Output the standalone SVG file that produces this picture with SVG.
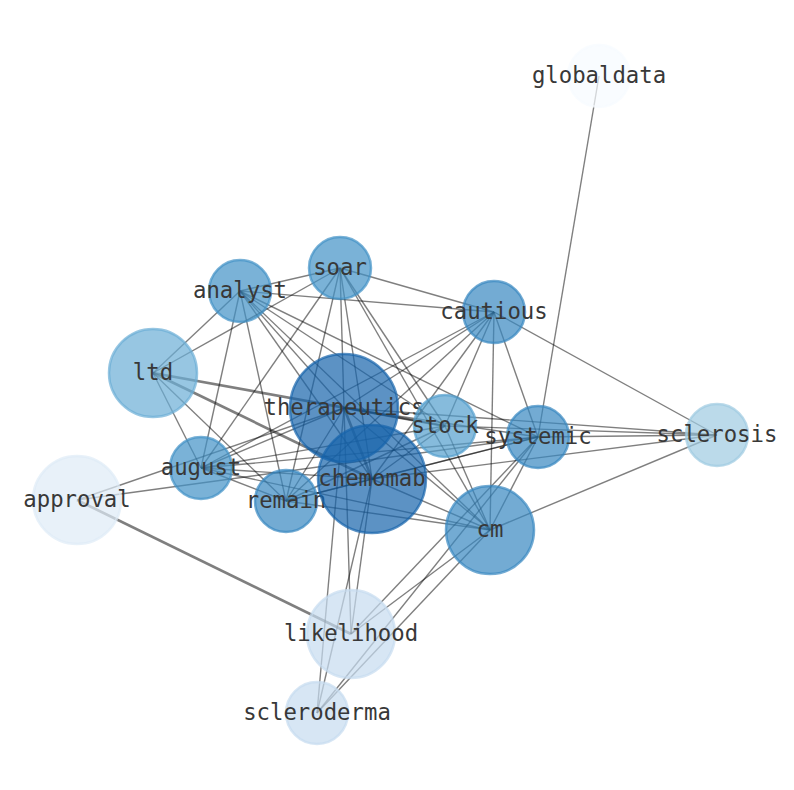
<svg xmlns="http://www.w3.org/2000/svg" width="794" height="790" viewBox="0 0 794 790">
<style>
.e{stroke:#000;stroke-opacity:0.5;stroke-width:1.4}
.t{stroke-width:2.7}
.n{fill-opacity:0.7;stroke-opacity:0.7;stroke-width:2.5}
.l{font-family:"DejaVu Sans Mono","Liberation Mono",monospace;font-size:22.3px;fill:#383838;text-anchor:middle}
</style>
<rect width="794" height="790" fill="#fff"/>
<g id="edges">
<line class="e" x1="599" y1="76" x2="538" y2="437"/>
<line class="e" x1="717" y1="435" x2="494" y2="312"/>
<line class="e" x1="717" y1="435" x2="538" y2="437"/>
<line class="e" x1="717" y1="435" x2="490" y2="530"/>
<line class="e" x1="717" y1="435" x2="344" y2="408"/>
<line class="e" x1="717" y1="435" x2="372" y2="479"/>
<line class="e" x1="717" y1="435" x2="445" y2="426"/>
<line class="e" x1="340" y1="268" x2="240" y2="291"/>
<line class="e" x1="340" y1="268" x2="494" y2="312"/>
<line class="e" x1="340" y1="268" x2="153" y2="373"/>
<line class="e" x1="340" y1="268" x2="344" y2="408"/>
<line class="e" x1="340" y1="268" x2="372" y2="479"/>
<line class="e" x1="340" y1="268" x2="286" y2="501"/>
<line class="e" x1="340" y1="268" x2="201" y2="468"/>
<line class="e" x1="340" y1="268" x2="445" y2="426"/>
<line class="e" x1="340" y1="268" x2="490" y2="530"/>
<line class="e" x1="240" y1="291" x2="494" y2="312"/>
<line class="e" x1="240" y1="291" x2="153" y2="373"/>
<line class="e" x1="240" y1="291" x2="201" y2="468"/>
<line class="e" x1="240" y1="291" x2="286" y2="501"/>
<line class="e" x1="240" y1="291" x2="344" y2="408"/>
<line class="e" x1="240" y1="291" x2="372" y2="479"/>
<line class="e" x1="240" y1="291" x2="445" y2="426"/>
<line class="e" x1="240" y1="291" x2="490" y2="530"/>
<line class="e" x1="240" y1="291" x2="538" y2="437"/>
<line class="e t" x1="153" y1="373" x2="445" y2="426"/>
<line class="e t" x1="153" y1="373" x2="372" y2="479"/>
<line class="e" x1="153" y1="373" x2="201" y2="468"/>
<line class="e" x1="153" y1="373" x2="286" y2="501"/>
<line class="e" x1="344" y1="408" x2="494" y2="312"/>
<line class="e" x1="344" y1="408" x2="445" y2="426"/>
<line class="e" x1="344" y1="408" x2="538" y2="437"/>
<line class="e" x1="344" y1="408" x2="201" y2="468"/>
<line class="e" x1="344" y1="408" x2="77" y2="500"/>
<line class="e" x1="344" y1="408" x2="286" y2="501"/>
<line class="e t" x1="344" y1="408" x2="372" y2="479"/>
<line class="e" x1="344" y1="408" x2="490" y2="530"/>
<line class="e" x1="344" y1="408" x2="351" y2="634"/>
<line class="e" x1="344" y1="408" x2="317" y2="713"/>
<line class="e" x1="372" y1="479" x2="494" y2="312"/>
<line class="e" x1="372" y1="479" x2="445" y2="426"/>
<line class="e" x1="372" y1="479" x2="538" y2="437"/>
<line class="e" x1="372" y1="479" x2="201" y2="468"/>
<line class="e" x1="372" y1="479" x2="286" y2="501"/>
<line class="e" x1="372" y1="479" x2="490" y2="530"/>
<line class="e" x1="372" y1="479" x2="351" y2="634"/>
<line class="e" x1="372" y1="479" x2="317" y2="713"/>
<line class="e" x1="490" y1="530" x2="494" y2="312"/>
<line class="e" x1="490" y1="530" x2="538" y2="437"/>
<line class="e" x1="490" y1="530" x2="445" y2="426"/>
<line class="e" x1="490" y1="530" x2="286" y2="501"/>
<line class="e" x1="490" y1="530" x2="201" y2="468"/>
<line class="e" x1="490" y1="530" x2="351" y2="634"/>
<line class="e" x1="490" y1="530" x2="317" y2="713"/>
<line class="e" x1="201" y1="468" x2="494" y2="312"/>
<line class="e" x1="201" y1="468" x2="286" y2="501"/>
<line class="e" x1="201" y1="468" x2="445" y2="426"/>
<line class="e" x1="201" y1="468" x2="538" y2="437"/>
<line class="e" x1="286" y1="501" x2="494" y2="312"/>
<line class="e" x1="286" y1="501" x2="445" y2="426"/>
<line class="e" x1="286" y1="501" x2="538" y2="437"/>
<line class="e" x1="445" y1="426" x2="494" y2="312"/>
<line class="e" x1="494" y1="312" x2="538" y2="437"/>
<line class="e" x1="538" y1="437" x2="77" y2="500"/>
<line class="e" x1="538" y1="437" x2="351" y2="634"/>
<line class="e" x1="538" y1="437" x2="317" y2="713"/>
<line class="e t" x1="77" y1="500" x2="351" y2="634"/>
</g>
<g id="globaldata"><circle class="n" cx="599" cy="76" r="31" fill="#f7fbff" stroke="#f7fbff"/><text class="l" x="599" y="83">globaldata</text></g>
<g id="soar"><circle class="n" cx="340" cy="268" r="31" fill="#4292c6" stroke="#4292c6"/><text class="l" x="340" y="275">soar</text></g>
<g id="analyst"><circle class="n" cx="240" cy="291" r="31" fill="#4292c6" stroke="#4292c6"/><text class="l" x="240" y="298">analyst</text></g>
<g id="cautious"><circle class="n" cx="494" cy="312" r="31" fill="#3787c0" stroke="#3787c0"/><text class="l" x="494" y="319">cautious</text></g>
<g id="ltd"><circle class="n" cx="153" cy="373" r="44" fill="#6baed6" stroke="#6baed6"/><text class="l" x="153" y="380">ltd</text></g>
<g id="therapeutics"><circle class="n" cx="344" cy="408" r="54" fill="#1764ab" stroke="#1764ab"/><text class="l" x="344" y="415">therapeutics</text></g>
<g id="stock"><circle class="n" cx="445" cy="426" r="31" fill="#539ecd" stroke="#539ecd"/><text class="l" x="445" y="433">stock</text></g>
<g id="systemic"><circle class="n" cx="538" cy="437" r="31" fill="#3787c0" stroke="#3787c0"/><text class="l" x="538" y="444">systemic</text></g>
<g id="sclerosis"><circle class="n" cx="717" cy="435" r="31" fill="#9ecae1" stroke="#9ecae1"/><text class="l" x="717" y="442">sclerosis</text></g>
<g id="august"><circle class="n" cx="201" cy="468" r="31" fill="#4292c6" stroke="#4292c6"/><text class="l" x="201" y="475">august</text></g>
<g id="approval"><circle class="n" cx="77" cy="500" r="44" fill="#deebf7" stroke="#deebf7"/><text class="l" x="77" y="507">approval</text></g>
<g id="remain"><circle class="n" cx="286" cy="501" r="31" fill="#3787c0" stroke="#3787c0"/><text class="l" x="286" y="508">remain</text></g>
<g id="chemomab"><circle class="n" cx="372" cy="479" r="54" fill="#1764ab" stroke="#1764ab"/><text class="l" x="372" y="486">chemomab</text></g>
<g id="cm"><circle class="n" cx="490" cy="530" r="44" fill="#3787c0" stroke="#3787c0"/><text class="l" x="490" y="537">cm</text></g>
<g id="likelihood"><circle class="n" cx="351" cy="634" r="44" fill="#c6dbef" stroke="#c6dbef"/><text class="l" x="351" y="641">likelihood</text></g>
<g id="scleroderma"><circle class="n" cx="317" cy="713" r="31" fill="#c6dbef" stroke="#c6dbef"/><text class="l" x="317" y="720">scleroderma</text></g>
</svg>
